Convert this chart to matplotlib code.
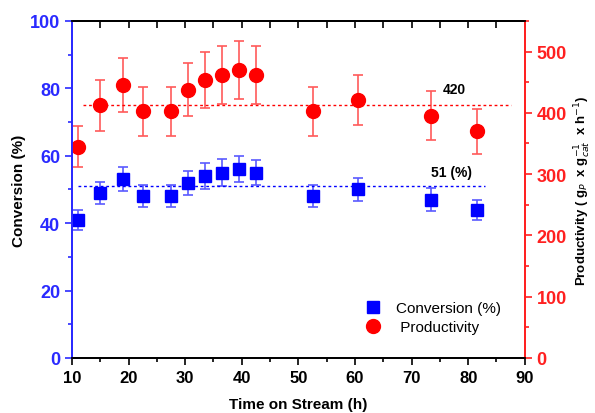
import matplotlib
matplotlib.use('Agg')
import matplotlib.pyplot as plt
from matplotlib.ticker import MultipleLocator

plt.rcParams['font.family'] = ['Liberation Sans', 'DejaVu Sans']

# Datos
tiempo = [11, 15, 19, 22.5, 27.5, 30.5, 33.5, 36.5, 39.5, 42.5, 52.5, 60.5, 73.5, 81.5]
conversion = [41, 49, 53, 48, 48, 52, 54, 55, 56, 55, 48, 50, 47, 44]
conv_err = [3, 3.3, 3.6, 3.3, 3.3, 3.6, 3.8, 3.9, 3.9, 3.8, 3.3, 3.5, 3.3, 3]
productividad = [345, 412, 446, 403, 403, 438, 454, 462, 470, 462, 403, 421, 395, 370]
prod_err = [34, 41, 44, 40, 40, 43, 46, 47, 47, 47, 40, 41, 40, 37]

conv_media = 51
prod_media = 413

fig = plt.figure(figsize=(5.95, 4.14), dpi=100)
ax = fig.add_axes([0.121, 0.133, 0.761, 0.814])
ax2 = ax.twinx()

# Conversión (eje izquierdo)
ax.errorbar(tiempo, conversion, yerr=conv_err, fmt='none', ecolor='#5a5aff',
            elinewidth=1.2, capsize=3.5, capthick=1.2)
l1, = ax.plot(tiempo, conversion, 's', color='#0000ff', markersize=8.5,
              label='Conversion (%)')
ax.plot([11, 83], [conv_media, conv_media], color='#0000ff', lw=1,
        linestyle=(0, (2, 2)))
ax.text(77, 53, '51 (%)', ha='center', va='bottom', fontsize=10,
        fontweight='bold')

# Productividad (eje derecho)
ax2.errorbar(tiempo, productividad, yerr=prod_err, fmt='none', ecolor='#ff5a5a',
             elinewidth=1.2, capsize=3.5, capthick=1.2)
l2, = ax2.plot(tiempo, productividad, 'o', color='#ff0000', markersize=10,
               label=' Productivity')
ax2.plot([12, 87.5], [prod_media, prod_media], color='#ff0000', lw=1,
         linestyle=(0, (2, 2)))
ax2.text(77.5, 428, '420', ha='center', va='bottom', fontsize=10,
         fontweight='bold')

# Ejes
ax.set_xlim(10, 90)
ax.set_ylim(0, 100)
ax2.set_ylim(0, 550)
ax.xaxis.set_major_locator(MultipleLocator(10))
ax.xaxis.set_minor_locator(MultipleLocator(5))
ax.yaxis.set_major_locator(MultipleLocator(20))
ax.yaxis.set_minor_locator(MultipleLocator(10))
ax2.yaxis.set_major_locator(MultipleLocator(100))
ax2.yaxis.set_minor_locator(MultipleLocator(50))

azul = '#2a2aff'
rojo = '#ff2020'
ax.spines['left'].set_color(azul)
ax2.spines['left'].set_color(azul)
ax.spines['right'].set_color(rojo)
ax2.spines['right'].set_color(rojo)
for a in (ax, ax2):
    for s in a.spines.values():
        s.set_linewidth(1.3)

ax.tick_params(axis='y', which='both', colors=azul, labelsize=13, width=1.2)
ax.tick_params(axis='y', which='major', length=5)
ax.tick_params(axis='y', which='minor', length=3)
ax.tick_params(axis='x', which='both', labelsize=12, width=1.2)
ax.tick_params(axis='x', which='major', length=5)
ax.tick_params(axis='x', which='minor', length=3)
ax2.tick_params(axis='y', which='both', colors=rojo, labelsize=13, width=1.2)
ax2.tick_params(axis='y', which='major', length=5)
ax2.tick_params(axis='y', which='minor', length=3)

# marcas superiores hacia adentro
arriba = ax.secondary_xaxis('top')
arriba.xaxis.set_major_locator(MultipleLocator(10))
arriba.xaxis.set_minor_locator(MultipleLocator(5))
arriba.tick_params(which='both', direction='in', labeltop=False, width=1.2)
arriba.tick_params(which='major', length=5)
arriba.tick_params(which='minor', length=5)
arriba.spines['top'].set_linewidth(1.3)

for lab in ax.get_yticklabels() + ax2.get_yticklabels() + ax.get_xticklabels():
    lab.set_fontweight('bold')

ax.set_xlabel('Time on Stream (h)', fontsize=11, fontweight='bold', labelpad=9)
ax.set_ylabel('Conversion (%)', fontsize=11, fontweight='bold', labelpad=3)
ax2.set_ylabel('Productivity ( g$_{P}$  x g$^{-1}_{cat}$  x h$^{-1}$)',
               fontsize=9.5, fontweight='bold', labelpad=4)

ax.legend([l1, l2], ['Conversion (%)', ' Productivity'], loc='lower left',
          bbox_to_anchor=(0.6, 0.03), frameon=False, fontsize=11,
          handletextpad=0.5, labelspacing=0.3)

fig.savefig('out.png', dpi=100)
